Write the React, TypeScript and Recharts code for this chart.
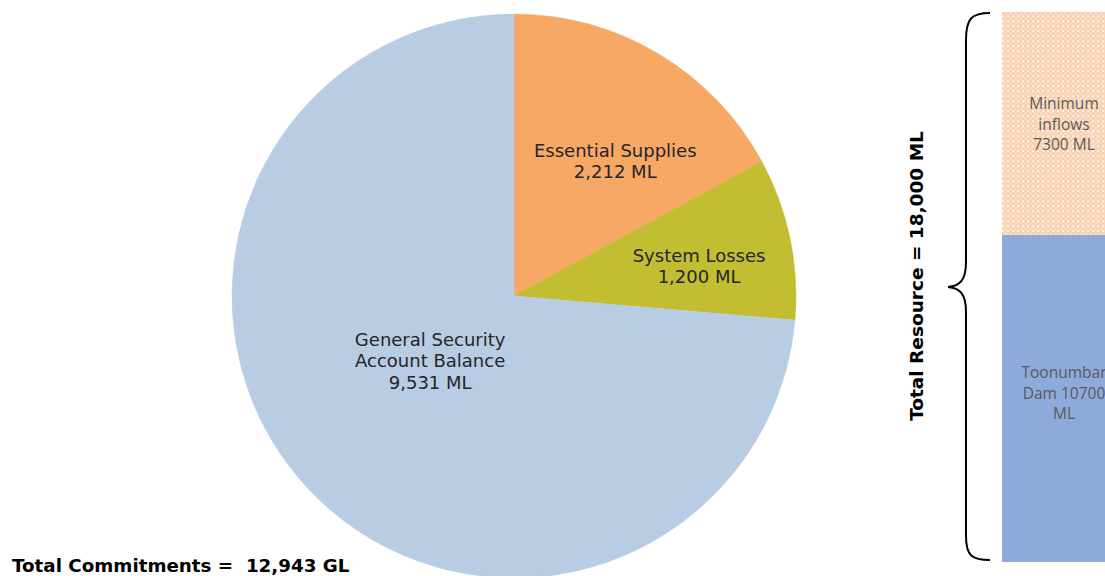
import React from "react";
import { PieChart, Pie, Cell, BarChart, Bar, XAxis, YAxis, LabelList } from "recharts";

// Commitments (ML)
const sliceNames = ["Essential Supplies", "System Losses", "General Security Account Balance"];
const sliceValues = [2212, 1200, 9531];
const sliceLabelLines = [["Essential Supplies"], ["System Losses"], ["General Security", "Account Balance"]];
const sliceColors = ["#f7a865", "#c3bd31", "#b8cce4"];

// Resource (ML)
const resourceNames = ["Toonumbar Dam", "Minimum inflows"];
const resourceValues = [10700, 7300];
const resourceLabelLines = [["Toonumbar", "Dam 10700", "ML"], ["Minimum", "inflows", "7300 ML"]];

const FONT = "'DejaVu Sans', 'Noto Sans', sans-serif";
const BAR_FONT = "'Open Sans', 'Noto Sans', sans-serif";
const RADIAN = Math.PI / 180;

// label placement inside each slice: fraction of radius and angle nudge
const labelPlacement = [
  { r: 0.6, da: -6 },
  { r: 0.665, da: -2.5 },
  { r: 0.375, da: -5 },
];

const pieData = sliceNames.map((name, i) => ({ name, value: sliceValues[i] }));
const barData = [
  { name: "resource", dam: resourceValues[0], inflows: resourceValues[1] },
];

function renderPieLabel(props: any) {
  const { cx, cy, midAngle, outerRadius, index, value } = props;
  const p = labelPlacement[index];
  const a = (midAngle + p.da) * RADIAN;
  const r = outerRadius * p.r;
  const x = cx + r * Math.cos(-a);
  const y = cy + r * Math.sin(-a);
  const lines = [...sliceLabelLines[index], `${value.toLocaleString("en-US")} ML`];
  const lh = 21.5;
  const y0 = y - ((lines.length - 1) * lh) / 2;
  return (
    <text
      x={x}
      y={y0}
      textAnchor="middle"
      dominantBaseline="central"
      fill="#262626"
      fontSize={18}
      fontFamily={FONT}
    >
      {lines.map((l, i) => (
        <tspan key={i} x={x} y={y0 + i * lh}>
          {l}
        </tspan>
      ))}
    </text>
  );
}

function barLabel(idx: number) {
  return (props: any) => {
    const { x, y, width, height } = props;
    const cx = x + width / 2 - 1;
    const lines = resourceLabelLines[idx];
    const lh = 20.5;
    const cy = y + height / 2 - (idx === 0 ? 6 : 0);
    const y0 = cy - ((lines.length - 1) * lh) / 2;
    return (
      <text
        textAnchor="middle"
        dominantBaseline="central"
        fill="#595959"
        fontSize={15.5}
        fontFamily={BAR_FONT}
      >
        {lines.map((l, i) => (
          <tspan key={i} x={cx} y={y0 + i * lh}>
            {l}
          </tspan>
        ))}
      </text>
    );
  };
}

export default function App() {
  return (
    <div
      style={{
        position: "relative",
        width: 1105,
        height: 576,
        overflow: "hidden",
        background: "#fff",
        fontFamily: FONT,
      }}
    >
      <style>{`body{margin:0;overflow:hidden}`}</style>

      <div style={{ position: "absolute", left: 0, top: 0 }}>
        <PieChart width={900} height={576} margin={{ top: 0, right: 0, bottom: 0, left: 0 }}>
          <Pie
            data={pieData}
            dataKey="value"
            nameKey="name"
            cx={514}
            cy={296}
            outerRadius={282}
            startAngle={90}
            endAngle={-270}
            label={renderPieLabel}
            labelLine={false}
            isAnimationActive={false}
          >
            {pieData.map((d, i) => (
              <Cell key={d.name} fill={sliceColors[i]} stroke={sliceColors[i]} strokeWidth={0.5} />
            ))}
          </Pie>
        </PieChart>
      </div>

      <div style={{ position: "absolute", left: 1002, top: 0 }}>
        <BarChart
          width={126}
          height={576}
          data={barData}
          margin={{ top: 12, right: 0, bottom: 14, left: 0 }}
          barCategoryGap={0}
        >
          <defs>
            <pattern id="dots" width="5" height="5" patternUnits="userSpaceOnUse">
              <rect width="5" height="5" fill="#f9cfae" />
              <rect x="0" y="0" width="2.5" height="2.5" fill="#fbdcc4" />
              <rect x="2.5" y="2.5" width="2.5" height="2.5" fill="#fbdcc4" />
              <circle cx="1.2" cy="1.2" r="0.9" fill="#ffffff" />
            </pattern>
          </defs>
          <XAxis dataKey="name" type="category" hide />
          <YAxis type="number" domain={[0, 18000]} hide />
          <Bar dataKey="dam" name={resourceNames[0]} stackId="r" fill="#8eaadb" isAnimationActive={false}>
            <LabelList dataKey="dam" content={barLabel(0)} />
          </Bar>
          <Bar dataKey="inflows" name={resourceNames[1]} stackId="r" fill="url(#dots)" isAnimationActive={false}>
            <LabelList dataKey="inflows" content={barLabel(1)} />
          </Bar>
        </BarChart>
      </div>

      <svg
        width={1105}
        height={576}
        style={{ position: "absolute", left: 0, top: 0, pointerEvents: "none" }}
      >
        <path
          d="M990 13 C972 13 966 18 966 40 L966 262 C966 280 960 286 948 287 C960 288 966 294 966 312 L966 536 C966 556 972 560 990 560"
          fill="none"
          stroke="#000"
          strokeWidth={2}
        />
        <text
          x={916}
          y={276}
          transform="rotate(-90 916 276)"
          textAnchor="middle"
          dominantBaseline="central"
          fontSize={18.5}
          fontWeight={700}
          fontFamily={FONT}
          fill="#000"
        >
          Total Resource = 18,000 ML
        </text>
        <text
          x={12}
          y={572}
          fontSize={18.3}
          fontWeight={700}
          fontFamily={FONT}
          fill="#000"
          style={{ whiteSpace: "pre" }}
        >
          {"Total Commitments =  12,943 GL"}
        </text>
      </svg>
    </div>
  );
}
